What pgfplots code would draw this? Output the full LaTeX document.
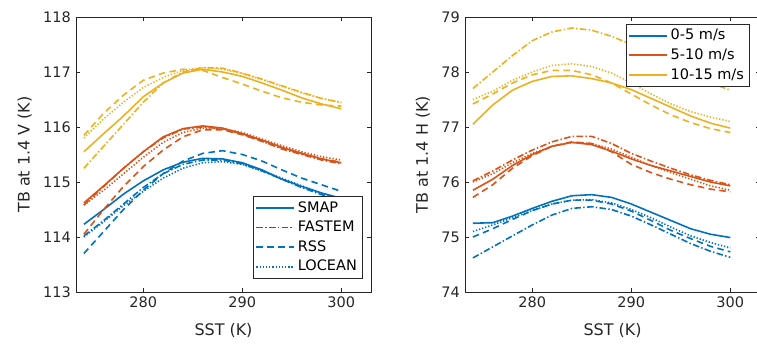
\documentclass[border=0pt]{standalone}
\usepackage{pgfplots}
\usepackage{pgfplotstable}
\pgfplotsset{compat=1.18}
\usepackage{fontspec}
\setmainfont{DejaVu Sans}
\definecolor{mblue}{rgb}{0,0.447,0.741}
\definecolor{morange}{rgb}{0.85,0.325,0.098}
\definecolor{myellow}{rgb}{0.929,0.694,0.125}
\definecolor{tgray}{rgb}{0.15,0.15,0.15}

\pgfplotstableread{
x Sb Fb Rb Lb So Fo Ro Lo Sy Fy Ry Ly
274 114.23 114.02 113.70 114.00 114.62 114.58 114.05 114.58 115.55 115.25 115.85 115.80
276 114.50 114.30 114.10 114.28 114.93 114.92 114.50 114.85 115.88 115.65 116.25 116.15
278 114.78 114.60 114.50 114.57 115.25 115.25 114.92 115.15 116.20 116.05 116.58 116.45
280 115.02 114.90 114.85 114.83 115.55 115.55 115.28 115.45 116.55 116.45 116.85 116.72
282 115.22 115.15 115.15 115.07 115.82 115.80 115.58 115.72 116.80 116.80 116.98 116.90
284 115.36 115.32 115.38 115.25 115.97 115.96 115.82 115.90 116.98 117.00 117.05 117.03
286 115.43 115.40 115.52 115.35 116.02 116.00 115.95 115.98 117.05 117.08 117.03 117.08
288 115.42 115.40 115.57 115.37 115.98 115.97 115.95 115.97 117.00 117.07 116.90 117.05
290 115.35 115.33 115.50 115.32 115.88 115.87 115.86 115.90 116.92 116.98 116.78 116.97
292 115.22 115.20 115.38 115.20 115.76 115.74 115.74 115.78 116.80 116.87 116.65 116.86
294 115.05 115.05 115.22 115.07 115.63 115.60 115.62 115.66 116.67 116.75 116.53 116.74
296 114.92 114.90 115.07 114.93 115.52 115.50 115.52 115.55 116.53 116.63 116.45 116.62
298 114.80 114.77 114.95 114.80 115.42 115.40 115.42 115.46 116.42 116.52 116.40 116.52
300 114.70 114.67 114.83 114.70 115.35 115.33 115.36 115.40 116.33 116.44 116.38 116.45
}\tabV

\pgfplotstableread{
x Sb Fb Rb Lb So Fo Ro Lo Sy Fy Ry Ly
274 75.25 74.62 75.00 75.10 75.85 76.02 75.72 76.00 77.05 77.70 77.42 77.50
276 75.26 74.82 75.15 75.22 76.05 76.20 75.95 76.15 77.40 78.00 77.60 77.65
278 75.38 75.02 75.32 75.35 76.30 76.40 76.25 76.35 77.67 78.30 77.80 77.85
280 75.52 75.22 75.48 75.48 76.50 76.58 76.48 76.52 77.83 78.57 77.95 78.00
282 75.65 75.40 75.60 75.60 76.65 76.73 76.65 76.65 77.92 78.73 78.03 78.12
284 75.75 75.52 75.67 75.67 76.72 76.83 76.73 76.72 77.93 78.80 78.03 78.15
286 75.77 75.55 75.67 75.68 76.68 76.83 76.70 76.70 77.88 78.76 77.95 78.10
288 75.72 75.50 75.60 75.62 76.56 76.70 76.55 76.60 77.80 78.65 77.80 77.98
290 75.60 75.38 75.47 75.50 76.42 76.52 76.32 76.45 77.68 78.50 77.60 77.80
292 75.45 75.22 75.30 75.35 76.30 76.38 76.17 76.30 77.52 78.33 77.40 77.60
294 75.30 75.05 75.12 75.18 76.20 76.25 76.05 76.17 77.36 78.15 77.22 77.42
296 75.15 74.88 74.97 75.02 76.10 76.13 75.95 76.05 77.20 77.97 77.08 77.28
298 75.05 74.74 74.83 74.90 76.00 76.03 75.87 75.93 77.07 77.80 76.97 77.18
300 74.99 74.63 74.73 74.80 75.93 75.95 75.82 75.85 76.98 77.67 76.90 77.10
}\tabH

\pgfplotsset{
  common/.style={
    scale only axis, width=203.55pt, height=189.75pt,
    anchor=south west,
    xmin=273.2, xmax=303, xtick={280,290,300},
    tick align=inside, major tick length=3pt,
    every tick/.style={tgray, line width=0.4pt},
    axis line style={tgray, line width=0.45pt},
    ticklabel style={font=\fontsize{10}{12}\selectfont, text=tgray},
    label style={font=\fontsize{11}{13}\selectfont, text=tgray},
    xlabel style={yshift=-4pt},
    ylabel style={yshift=1pt},
    /pgf/number format/assume math mode=true,
    /pgf/number format/1000 sep={},
    xlabel={SST (K)},
    legend cell align=left,
    legend style={font=\fontsize{10}{12}\selectfont, draw=tgray, fill=white,
      inner sep=1.5pt, row sep=0.6pt},
    legend image code/.code={\draw[line width=1.25pt,#1] (0pt,0pt) -- (26pt,0pt);},
    every axis plot/.append style={line width=1.1pt},
  },
  ssolid/.style={solid},
  sdashdot/.style={dash pattern=on 4.5pt off 1.6pt on 1pt off 1.6pt},
  sdashed/.style={dash pattern=on 4.5pt off 3pt},
  sdotted/.style={dash pattern=on 0.9pt off 1.3pt},
}

\begin{document}
\begin{tikzpicture}
\begin{axis}[common, at={(52.44pt,36.57pt)},
  ymin=113, ymax=118, ytick={113,114,...,118},
  ylabel={TB at 1.4 V (K)},
  legend style={at={(0.6,0.349)}, anchor=north west}]
\addplot[mblue, ssolid] table[x=x,y=Sb]{\tabV};
\addplot[mblue, sdashdot] table[x=x,y=Fb]{\tabV};
\addplot[mblue, sdashed] table[x=x,y=Rb]{\tabV};
\addplot[mblue, sdotted] table[x=x,y=Lb]{\tabV};
\legend{SMAP,FASTEM,RSS,LOCEAN}
\addplot[morange, ssolid, forget plot] table[x=x,y=So]{\tabV};
\addplot[morange, sdashdot, forget plot] table[x=x,y=Fo]{\tabV};
\addplot[morange, sdashed, forget plot] table[x=x,y=Ro]{\tabV};
\addplot[morange, sdotted, forget plot] table[x=x,y=Lo]{\tabV};
\addplot[myellow, ssolid, forget plot] table[x=x,y=Sy]{\tabV};
\addplot[myellow, sdashdot, forget plot] table[x=x,y=Fy]{\tabV};
\addplot[myellow, sdashed, forget plot] table[x=x,y=Ry]{\tabV};
\addplot[myellow, sdotted, forget plot] table[x=x,y=Ly]{\tabV};
\end{axis}

\begin{axis}[common, at={(320.85pt,36.57pt)},
  ymin=74, ymax=79, ytick={74,75,...,79},
  ylabel={TB at 1.4 H (K)},
  legend style={at={(0.545,0.975)}, anchor=north west}]
\addplot[mblue, ssolid] table[x=x,y=Sb]{\tabH};
\addplot[morange, ssolid] table[x=x,y=So]{\tabH};
\addplot[myellow, ssolid] table[x=x,y=Sy]{\tabH};
\legend{0-5 m/s,5-10 m/s,10-15 m/s}
\addplot[mblue, sdashdot, forget plot] table[x=x,y=Fb]{\tabH};
\addplot[mblue, sdashed, forget plot] table[x=x,y=Rb]{\tabH};
\addplot[mblue, sdotted, forget plot] table[x=x,y=Lb]{\tabH};
\addplot[morange, sdashdot, forget plot] table[x=x,y=Fo]{\tabH};
\addplot[morange, sdashed, forget plot] table[x=x,y=Ro]{\tabH};
\addplot[morange, sdotted, forget plot] table[x=x,y=Lo]{\tabH};
\addplot[myellow, sdashdot, forget plot] table[x=x,y=Fy]{\tabH};
\addplot[myellow, sdashed, forget plot] table[x=x,y=Ry]{\tabH};
\addplot[myellow, sdotted, forget plot] table[x=x,y=Ly]{\tabH};
\end{axis}
\pgfresetboundingbox
\useasboundingbox (0,0) rectangle (522.33pt,238.05pt);
\end{tikzpicture}
\end{document}
